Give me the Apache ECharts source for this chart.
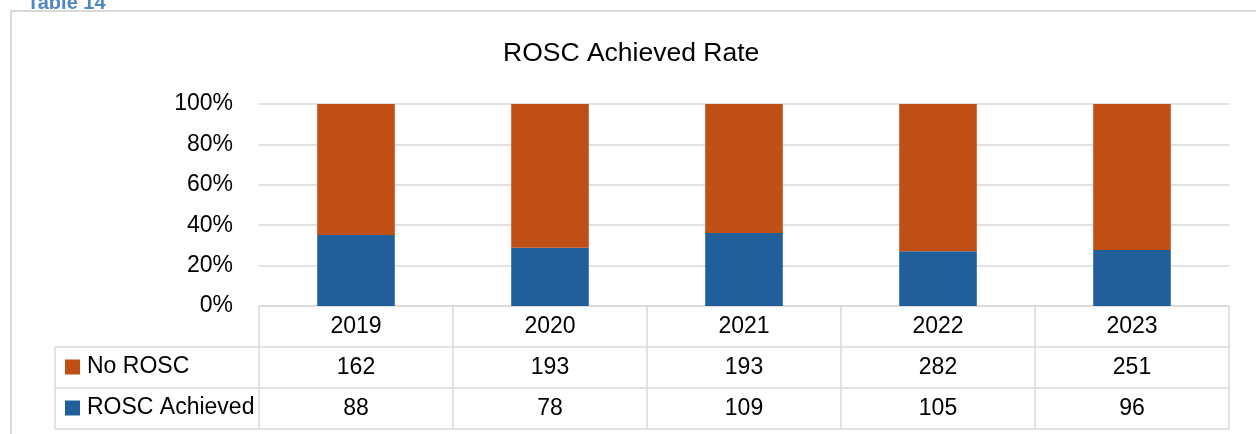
<!DOCTYPE html>
<html>
<head>
<meta charset="utf-8">
<script src="https://cdn.jsdelivr.net/npm/echarts@6/dist/echarts.min.js"></script>
<style>
html,body{margin:0;padding:0;background:#fff;}
#c{width:1256px;height:434px;}
</style>
</head>
<body>
<div id="c"></div>
<script>
const years = ['2019', '2020', '2021', '2022', '2023'];
const noRosc = [162, 193, 193, 282, 251];
const roscAchieved = [88, 78, 109, 105, 96];
const yTicks = [0, 20, 40, 60, 80, 100];

const totals = years.map((_, i) => noRosc[i] + roscAchieved[i]);
const roscPct = roscAchieved.map((v, i) => v / totals[i] * 100);
const noPct = noRosc.map((v, i) => v / totals[i] * 100);

const FONT = '"Liberation Sans", Arial, sans-serif';
const GRID_LEFT = 259, GRID_RIGHT = 1229, GRID_TOP = 104, GRID_BOTTOM = 306;
const ROW = 41;
const LINE = '#D9D9D9';
const BORDER_W = 1.5;
const FS = 23;

const chart = echarts.init(document.getElementById('c'), null, {renderer: 'canvas'});

function rowAxis(idx, labels) {
  return {
    type: 'category',
    gridIndex: 0,
    position: 'bottom',
    offset: ROW * idx,
    data: years,
    boundaryGap: true,
    axisLine: {show: true, lineStyle: {color: LINE, width: BORDER_W}},
    axisTick: {show: labels !== null, length: ROW, lineStyle: {color: LINE, width: BORDER_W}},
    axisLabel: {
      show: labels !== null,
      margin: 9,
      fontSize: FS,
      color: '#000',
      fontFamily: FONT,
      formatter: (v, i) => labels ? String(labels[i]) : ''
    },
    splitLine: {show: false}
  };
}

chart.setOption({
  animation: false,
  backgroundColor: '#fff',
  title: {
    text: 'ROSC Achieved Rate',
    left: 503,
    top: 40,
    padding: 0,
    textStyle: {fontSize: 26.5, fontWeight: 'normal', color: '#000', fontFamily: FONT}
  },
  legend: {
    orient: 'vertical',
    left: 65,
    top: 354,
    padding: 0,
    itemWidth: 15,
    itemHeight: 15,
    itemGap: 15,
    icon: 'rect',
    data: ['No ROSC', 'ROSC Achieved'],
    textStyle: {fontSize: FS, color: '#000', fontFamily: FONT, lineHeight: 26, padding: [0, 0, 0, 2]}
  },
  grid: {
    left: GRID_LEFT,
    right: 1256 - GRID_RIGHT,
    top: GRID_TOP,
    bottom: 434 - GRID_BOTTOM,
    containLabel: false
  },
  xAxis: [
    rowAxis(0, years),
    rowAxis(1, noRosc),
    rowAxis(2, roscAchieved),
    rowAxis(3, null)
  ],
  yAxis: {
    type: 'value',
    min: yTicks[0],
    max: yTicks[yTicks.length - 1],
    interval: 20,
    axisLine: {show: false},
    axisTick: {show: false},
    axisLabel: {
      margin: 26,
      fontSize: FS,
      color: '#000',
      fontFamily: FONT,
      padding: [3, 0, 0, 0],
      formatter: '{value}%'
    },
    splitLine: {lineStyle: {color: LINE, width: BORDER_W}}
  },
  series: [
    {
      name: 'ROSC Achieved',
      type: 'bar',
      stack: 'total',
      xAxisIndex: 0,
      barWidth: '40%',
      itemStyle: {color: '#215F9A'},
      data: roscPct
    },
    {
      name: 'No ROSC',
      type: 'bar',
      stack: 'total',
      xAxisIndex: 0,
      barWidth: '40%',
      itemStyle: {color: '#C04F15'},
      data: noPct
    }
  ],
  graphic: [
    {
      type: 'rect',
      shape: {x: 11, y: 11, width: 1400, height: 600},
      style: {fill: 'none', stroke: LINE, lineWidth: 2},
      silent: true,
      z: -1
    },
    {
      type: 'text',
      x: 27,
      y: 13,
      style: {
        text: 'Table 14',
        fill: '#4E86C6',
        font: 'bold 20px ' + FONT,
        textVerticalAlign: 'bottom'
      }
    },
    {
      type: 'line',
      shape: {x1: 55, y1: GRID_BOTTOM + ROW, x2: GRID_LEFT, y2: GRID_BOTTOM + ROW},
      style: {stroke: LINE, lineWidth: BORDER_W}
    },
    {
      type: 'line',
      shape: {x1: 55, y1: GRID_BOTTOM + 2 * ROW, x2: GRID_LEFT, y2: GRID_BOTTOM + 2 * ROW},
      style: {stroke: LINE, lineWidth: BORDER_W}
    },
    {
      type: 'line',
      shape: {x1: 55, y1: GRID_BOTTOM + 3 * ROW, x2: GRID_LEFT, y2: GRID_BOTTOM + 3 * ROW},
      style: {stroke: LINE, lineWidth: BORDER_W}
    },
    {
      type: 'line',
      shape: {x1: 55, y1: GRID_BOTTOM + ROW, x2: 55, y2: GRID_BOTTOM + 3 * ROW},
      style: {stroke: LINE, lineWidth: BORDER_W}
    }
  ]
});
</script>
</body>
</html>
